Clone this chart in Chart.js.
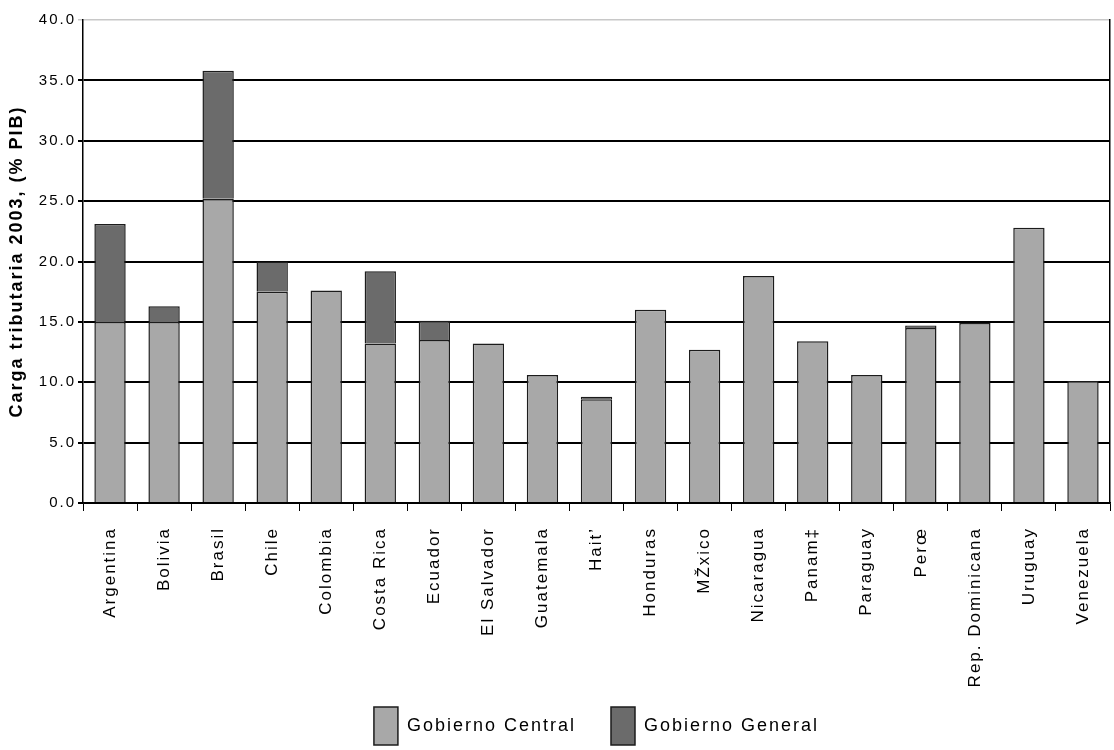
<!DOCTYPE html>
<html lang="es">
<head>
<meta charset="UTF-8">
<script src="https://cdn.jsdelivr.net/npm/chart.js"></script>
<title>Carga tributaria 2003</title>
<style>
  html, body { margin: 0; padding: 0; background: #fff; }
  #wrap { width: 1114px; height: 750px; }
</style>
</head>
<body>
<div id="wrap"><canvas id="chart"></canvas></div>
<script>
// categorias (texto tal como aparece en el original)
var paises = ['Argentina', 'Bolivia', 'Brasil', 'Chile', 'Colombia', 'Costa Rica', 'Ecuador',
  'El Salvador', 'Guatemala', 'Hait\u2019', 'Honduras', 'M\u017Dxico', 'Nicaragua', 'Panam\u2021',
  'Paraguay', 'Per\u0153', 'Rep. Dominicana', 'Uruguay', 'Venezuela'];

// % del PIB
var gobiernoCentral = [15.0, 15.0, 25.2, 17.5, 17.6, 13.2, 13.5, 13.2, 10.6, 8.6, 16.0, 12.7, 18.8, 13.4, 10.6, 14.5, 14.9, 22.8, 10.1];
var gobiernoGeneral = [8.1, 1.3, 10.6, 2.5, null, 6.0, 1.6, null, null, 0.2, null, null, null, null, null, 0.2, null, null, null];

var yTicks = [0, 5, 10, 15, 20, 25, 30, 35, 40];

var fuente = 'Liberation Sans, Arial, sans-serif';

// el texto del original esta algo espaciado
var espaciado = {
  id: 'espaciado',
  beforeUpdate: function (chart) { chart.ctx.letterSpacing = '2px'; },
  beforeDraw: function (chart) { chart.ctx.letterSpacing = '2px'; }
};

new Chart(document.getElementById('chart'), {
  type: 'bar',
  data: {
    labels: paises,
    datasets: [{
      label: 'Gobierno Central',
      data: gobiernoCentral,
      backgroundColor: '#a8a8a8',
      borderColor: '#1c1c1c',
      borderWidth: 1.5,
      barPercentage: 0.58,
      categoryPercentage: 1
    }, {
      label: 'Gobierno General',
      data: gobiernoGeneral,
      backgroundColor: '#6b6b6b',
      borderColor: '#1c1c1c',
      borderWidth: 1.5,
      barPercentage: 0.58,
      categoryPercentage: 1
    }]
  },
  plugins: [espaciado],
  options: {
    responsive: true,
    maintainAspectRatio: false,
    animation: false,
    layout: { padding: { top: 20, right: 4, left: 0, bottom: -5 } },
    plugins: {
      tooltip: { enabled: false },
      legend: {
        position: 'bottom',
        fullSize: false,
        labels: {
          font: { family: fuente, size: 18 },
          color: '#000',
          boxWidth: 24,
          boxHeight: 38,
          padding: 35
        }
      }
    },
    scales: {
      x: {
        stacked: true,
        offset: true,
        grid: { drawOnChartArea: false, drawTicks: true, tickLength: 8, color: '#000', offset: true },
        border: { color: '#000', width: 1.5 },
        ticks: {
          maxRotation: 90, minRotation: 90,
          autoSkip: false,
          color: '#000',
          font: { family: fuente, size: 17 },
          padding: 16
        },
        afterFit: function (s) {
          s.height = 169;
          s.paddingLeft = 0;
          s.paddingRight = 0;
          // las etiquetas largas bajan hasta la leyenda: no recortarlas
          s._computeLabelArea = function () { return undefined; };
        }
      },
      y: {
        stacked: true,
        min: 0, max: 40,
        afterBuildTicks: function (s) { s.ticks = yTicks.map(function (v) { return { value: v }; }); },
        grid: {
          color: function (c) { return c.tick && c.tick.value === 40 ? '#c8c8c8' : '#000'; },
          lineWidth: function (c) { return c.tick && c.tick.value === 40 ? 1.5 : 2; },
          tickLength: 5
        },
        border: { color: '#000', width: 1.5 },
        ticks: {
          color: '#000',
          font: { family: fuente, size: 15 },
          padding: 2,
          callback: function (v) { return Number(v).toFixed(1); }
        },
        title: {
          display: true,
          text: 'Carga tributaria 2003, (% PIB)',
          color: '#000',
          font: { family: fuente, size: 18, weight: 'bold' },
          padding: { top: 6, bottom: 2 }
        },
        afterFit: function (s) { s.width = 83; }
      },
      y2: {
        position: 'right',
        min: 0, max: 40,
        grid: { display: false },
        ticks: { display: false },
        border: { color: '#000', width: 1.5 },
        afterFit: function (s) { s.width = 0; }
      }
    }
  }
});
</script>
</body>
</html>
